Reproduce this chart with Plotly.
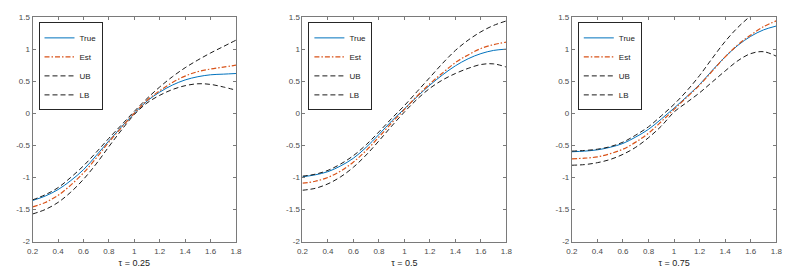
import plotly.graph_objects as go

# ---------------- data ----------------
x_vals = [0.2, 0.3, 0.4, 0.5, 0.6, 0.7, 0.8, 0.9, 1.0, 1.1, 1.2, 1.3, 1.4, 1.5, 1.6, 1.7, 1.8]

# tau = 0.25
true_025 = [-1.36, -1.29, -1.19, -1.05, -0.88, -0.66, -0.43, -0.21, 0.00, 0.19, 0.33, 0.44, 0.52, 0.57, 0.60, 0.61, 0.62]
est_025 = [-1.46, -1.39, -1.28, -1.12, -0.93, -0.70, -0.45, -0.22, 0.00, 0.20, 0.35, 0.48, 0.58, 0.65, 0.69, 0.72, 0.75]
ub_025 = [-1.35, -1.27, -1.16, -1.00, -0.82, -0.61, -0.39, -0.18, 0.03, 0.23, 0.41, 0.57, 0.71, 0.83, 0.94, 1.04, 1.14]
lb_025 = [-1.57, -1.50, -1.39, -1.23, -1.03, -0.79, -0.52, -0.26, -0.02, 0.16, 0.28, 0.37, 0.43, 0.46, 0.45, 0.41, 0.36]

# tau = 0.5
true_050 = [-0.99, -0.96, -0.91, -0.82, -0.70, -0.53, -0.33, -0.12, 0.07, 0.26, 0.44, 0.60, 0.74, 0.85, 0.93, 0.98, 1.00]
est_050 = [-1.09, -1.06, -1.00, -0.90, -0.76, -0.58, -0.37, -0.15, 0.06, 0.27, 0.46, 0.63, 0.79, 0.91, 1.01, 1.07, 1.11]
ub_050 = [-0.98, -0.95, -0.89, -0.79, -0.66, -0.49, -0.29, -0.08, 0.12, 0.34, 0.56, 0.78, 0.98, 1.14, 1.27, 1.37, 1.44]
lb_050 = [-1.20, -1.17, -1.10, -0.99, -0.84, -0.65, -0.43, -0.20, 0.02, 0.22, 0.39, 0.52, 0.62, 0.70, 0.76, 0.77, 0.72]

# tau = 0.75
true_075 = [-0.60, -0.59, -0.57, -0.53, -0.47, -0.37, -0.25, -0.09, 0.08, 0.26, 0.45, 0.67, 0.88, 1.06, 1.20, 1.30, 1.36]
est_075 = [-0.71, -0.70, -0.68, -0.63, -0.56, -0.45, -0.31, -0.13, 0.06, 0.25, 0.44, 0.66, 0.88, 1.07, 1.22, 1.35, 1.44]
ub_075 = [-0.59, -0.58, -0.56, -0.52, -0.45, -0.34, -0.21, -0.04, 0.14, 0.35, 0.59, 0.86, 1.12, 1.34, 1.52, 1.68, 1.80]
lb_075 = [-0.81, -0.80, -0.77, -0.72, -0.64, -0.53, -0.38, -0.20, 0.02, 0.17, 0.32, 0.49, 0.66, 0.82, 0.93, 0.96, 0.89]

tau_labels = ["0.25", "0.5", "0.75"]
series_names = ["True", "Est", "UB", "LB"]

x_tick_vals = [0.2, 0.4, 0.6, 0.8, 1.0, 1.2, 1.4, 1.6, 1.8]
x_tick_text = ["0.2", "0.4", "0.6", "0.8", "1", "1.2", "1.4", "1.6", "1.8"]
y_tick_vals = [-2, -1.5, -1, -0.5, 0, 0.5, 1, 1.5]
y_tick_text = ["-2", "-1.5", "-1", "-0.5", "0", "0.5", "1", "1.5"]

panels = [
    [true_025, est_025, ub_025, lb_025],
    [true_050, est_050, ub_050, lb_050],
    [true_075, est_075, ub_075, lb_075],
]

# ---------------- styling ----------------
W, H = 800, 278
FONT = "Arial, Liberation Sans, sans-serif"
AXIS_COLOR = "#7a7a7a"
TEXT_COLOR = "#4a4a4a"

line_styles = [
    dict(color="#0072BD", width=1, dash="solid"),
    dict(color="#D95319", width=1.2, dash="5px,2px,1.5px,2px"),
    dict(color="#1a1a1a", width=1, dash="5px,3px"),
    dict(color="#1a1a1a", width=1, dash="5px,3px"),
]

x_domains_px = [(27, 233.5), (301, 508), (574.5, 782)]
y_domain = [1 - 245.5 / H, 1 - 13.5 / H]

fig = go.Figure()
legend_keys = ["legend", "legend2", "legend3"]

for i, series in enumerate(panels):
    xa = "x" if i == 0 else f"x{i + 1}"
    ya = "y" if i == 0 else f"y{i + 1}"
    for name, vals, st in zip(series_names, series, line_styles):
        fig.add_trace(go.Scatter(
            x=x_vals, y=vals, name=name, mode="lines",
            line=dict(color=st["color"], width=st["width"], dash=st["dash"], shape="spline", smoothing=1.0),
            xaxis=xa, yaxis=ya, legend=legend_keys[i], hoverinfo="skip",
        ))

layout = dict(
    width=W, height=H,
    margin=dict(l=0, r=0, t=0, b=0),
    paper_bgcolor="white", plot_bgcolor="white",
    font=dict(family=FONT, size=8, color=TEXT_COLOR),
)

for i in range(3):
    xk = "xaxis" if i == 0 else f"xaxis{i + 1}"
    yk = "yaxis" if i == 0 else f"yaxis{i + 1}"
    xa = "x" if i == 0 else f"x{i + 1}"
    ya = "y" if i == 0 else f"y{i + 1}"
    d0, d1 = x_domains_px[i]
    layout[xk] = dict(
        domain=[d0 / W, d1 / W], anchor=ya, range=[0.2, 1.8],
        tickmode="array", tickvals=x_tick_vals, ticktext=x_tick_text,
        ticks="inside", ticklen=3, tickcolor=AXIS_COLOR, tickwidth=1,
        showline=True, linecolor=AXIS_COLOR, linewidth=1, mirror="ticks",
        showgrid=False, zeroline=False, ticklabelstandoff=2,
        tickfont=dict(size=8, color=TEXT_COLOR, family=FONT),
        title=dict(text="τ = " + tau_labels[i], font=dict(size=9, color="#222222", family=FONT), standoff=4),
    )
    layout[yk] = dict(
        domain=y_domain, anchor=xa, range=[-2, 1.5],
        tickmode="array", tickvals=y_tick_vals, ticktext=y_tick_text,
        ticks="inside", ticklen=3, tickcolor=AXIS_COLOR, tickwidth=1,
        showline=True, linecolor=AXIS_COLOR, linewidth=1, mirror="ticks",
        showgrid=False, zeroline=False,
        tickfont=dict(size=8, color=TEXT_COLOR, family=FONT),
    )
    layout[legend_keys[i]] = dict(
        x=(d0 + 6) / W, y=1 - 19 / H, xanchor="left", yanchor="top",
        bgcolor="white", bordercolor="#262626", borderwidth=1,
        font=dict(size=8, color="#222222", family=FONT),
        itemwidth=30, tracegroupgap=0,
    )

fig.update_layout(**layout)
fig.write_html("out.html")
